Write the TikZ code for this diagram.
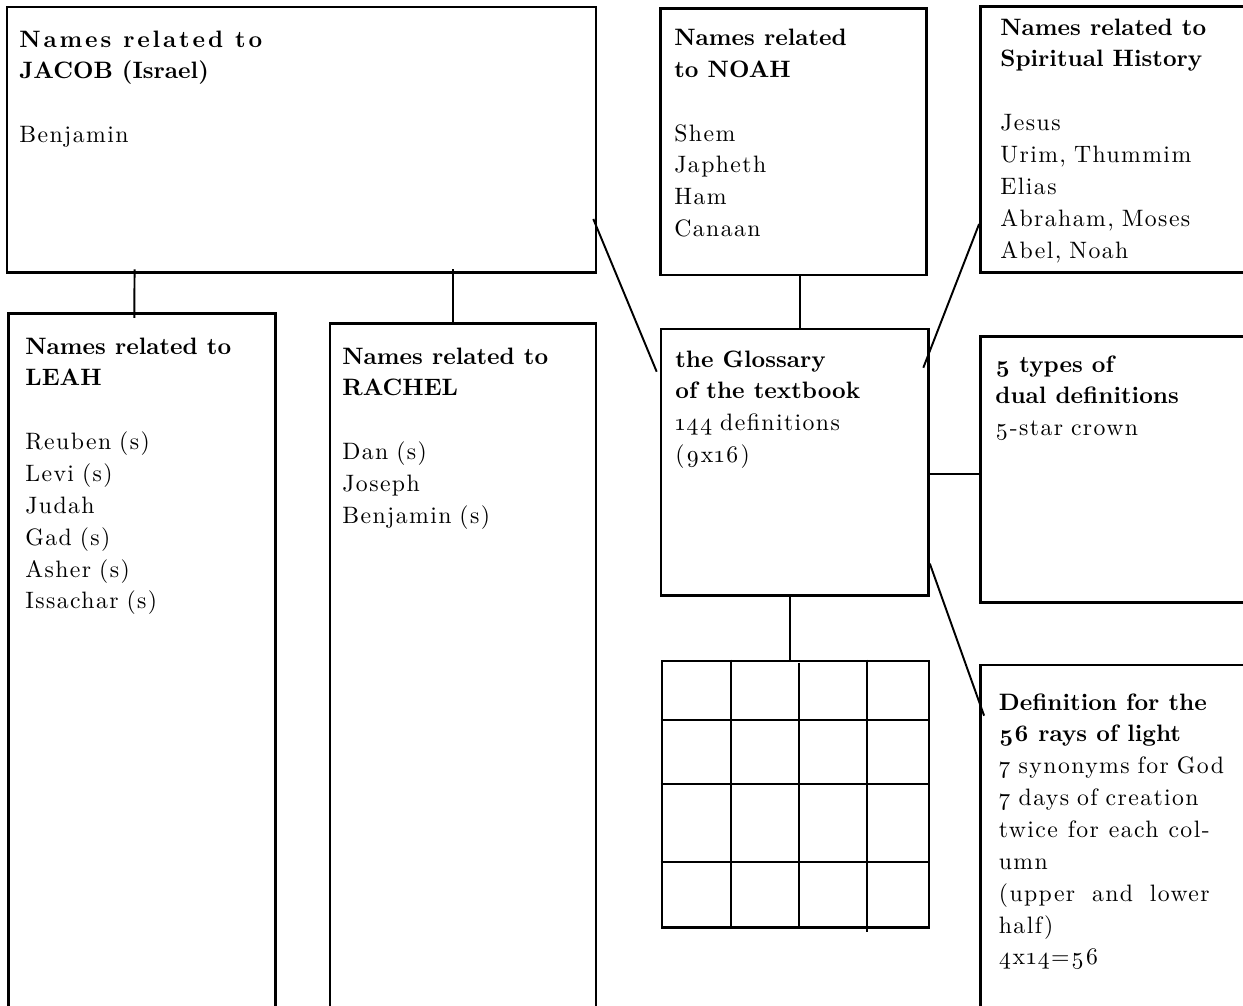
\documentclass[tikz,border=0pt]{standalone}
\usepackage{fontspec}
\newfontfamily\rgfont{lmroman10-regular.otf}[LetterSpace=6,WordSpace=0.85,Numbers=OldStyle]
\newfontfamily\bdfont{lmroman10-bold.otf}[Numbers=OldStyle]
\usetikzlibrary{fit,calc}
\newcommand\hd[1]{{\bdfont #1}}
\newcommand\jline[1]{\makebox[120pt][s]{#1}}
\tikzset{
  box/.style={draw, line width=1.5pt, inner sep=0pt},
  conn/.style={line width=1.1pt},
  gridline/.style={line width=1.1pt},
  txt/.style={anchor=base west, inner sep=0pt, font=\rgfont\fontsize{13.5}{18.14}\selectfont},
}
\begin{document}
\begin{tikzpicture}[x=0.02cm,y=-0.02cm]
\clip (0,0) rectangle (1243,1005);
\fill[white] (0,0) rectangle (1243,1005);
% boxes
\node[box, fit={(7,7) (596,272.7)}] (jacob) {};
\node[box, fit={(8.7,313.3) (275.5,1020)}] (leah) {};
\node[box, fit={(330,323.3) (596,1020)}] (rachel) {};
\node[box, fit={(660.3,8.3) (926.7,275)}] (noah) {};
\node[box, fit={(980.4,6.7) (1260,272.7)}] (spirit) {};
\node[box, fit={(661,329) (928.5,595.3)}] (gloss) {};
\node[box, fit={(980.4,336.7) (1260,602.7)}] (five) {};
\node[box, fit={(980.4,665) (1260,1020)}] (def) {};
\node[box, fit={(662,661) (929,927.7)}] (grid) {};
% grid lines
\draw[gridline] ($(grid.north west)+(70,0)$) -- ($(grid.south west)+(70,0)$);
\draw[gridline] ($(grid.north west)+(138.6,3)$) -- ($(grid.south west)+(138.6,0)$);
\draw[gridline] ($(grid.north west)+(206,0)$) -- ($(grid.south west)+(206,3)$);
\draw[gridline] ($(grid.north west)+(0,60)$) -- ($(grid.north east)+(0,60)$);
\draw[gridline] ($(grid.north west)+(0,124)$) -- ($(grid.north east)+(0,124)$);
\draw[gridline] ($(grid.north west)+(0,202)$) -- ($(grid.north east)+(0,202)$);
% connectors
\draw[conn] ($(jacob.south west)+(128.9,-4.7)$) -- ($(leah.north west)+(126.9,6)$);
\draw[conn] ($(jacob.south west)+(447,-4.7)$) -- ($(rachel.north west)+(124,0)$);
\draw[conn] ($(noah.south)+(6.9,0)$) coordinate (n1) -- (n1 |- gloss.north);
\draw[conn] ($(gloss.south)+(-4.7,0)$) coordinate (g1) -- (g1 |- grid.north);
\draw[conn] ($(gloss.east)+(0,12)$) coordinate (g5) -- (g5 -| five.west);
\draw[conn] ($(jacob.south east)+(-4,-55)$) -- ($(gloss.north west)+(-3,44)$);
\draw[conn] ($(spirit.south west)+(0,-50)$) -- ($(gloss.north east)+(-6.5,40)$);
\draw[conn] ($(gloss.south east)+(0,-33)$) -- ($(def.north west)+(5,52)$);
% texts
\node[txt] (tjacob) at (19,47) {\begin{tabular}[t]{@{}l@{}}\hd{\addfontfeature{LetterSpace=12}Names related to}\\ \hd{JACOB (Israel)}\\ \\ Benjamin\end{tabular}};
\node[txt] (tleah) at (25,354) {\begin{tabular}[t]{@{}l@{}}\hd{Names related to}\\ \hd{LEAH}\\ \\ Reuben (s)\\ Levi (s)\\ Judah\\ Gad (s)\\ Asher (s)\\ Issachar (s)\end{tabular}};
\node[txt] (trachel) at (342,364) {\begin{tabular}[t]{@{}l@{}}\hd{Names related to}\\ \hd{RACHEL}\\ \\ Dan (s)\\ Joseph\\ Benjamin (s)\end{tabular}};
\node[txt] (tnoah) at (674,45.5) {\begin{tabular}[t]{@{}l@{}}\hd{Names related}\\ \hd{to NOAH}\\ \\ Shem\\ Japheth\\ Ham\\ Canaan\end{tabular}};
\node[txt] (tspirit) at (1000,35) {\begin{tabular}[t]{@{}l@{}}\hd{Names related to}\\ \hd{Spiritual History}\\ \\ Jesus\\ Urim, Thummim\\ Elias\\ Abraham, Moses\\ Abel, Noah\end{tabular}};
\node[txt] (tgloss) at (675,367) {\begin{tabular}[t]{@{}l@{}}\hd{the Glossary}\\ \hd{of the textbook}\\ 144 definitions\\ (9x16)\end{tabular}};
\node[txt] (tfive) at (995,372) {\begin{tabular}[t]{@{}l@{}}\hd{5 types of}\\ \hd{dual definitions}\\ 5-star crown\end{tabular}};
\node[txt] (tdef) at (998.5,710) {\begin{tabular}[t]{@{}l@{}}\hd{Definition for the}\\ \hd{56 rays of light}\\ 7 synonyms for God\\ 7 days of creation\\ \jline{twice for each col-}\\ umn\\ \jline{(upper and lower}\\ half)\\ 4x14=56\end{tabular}};
\end{tikzpicture}
\end{document}
